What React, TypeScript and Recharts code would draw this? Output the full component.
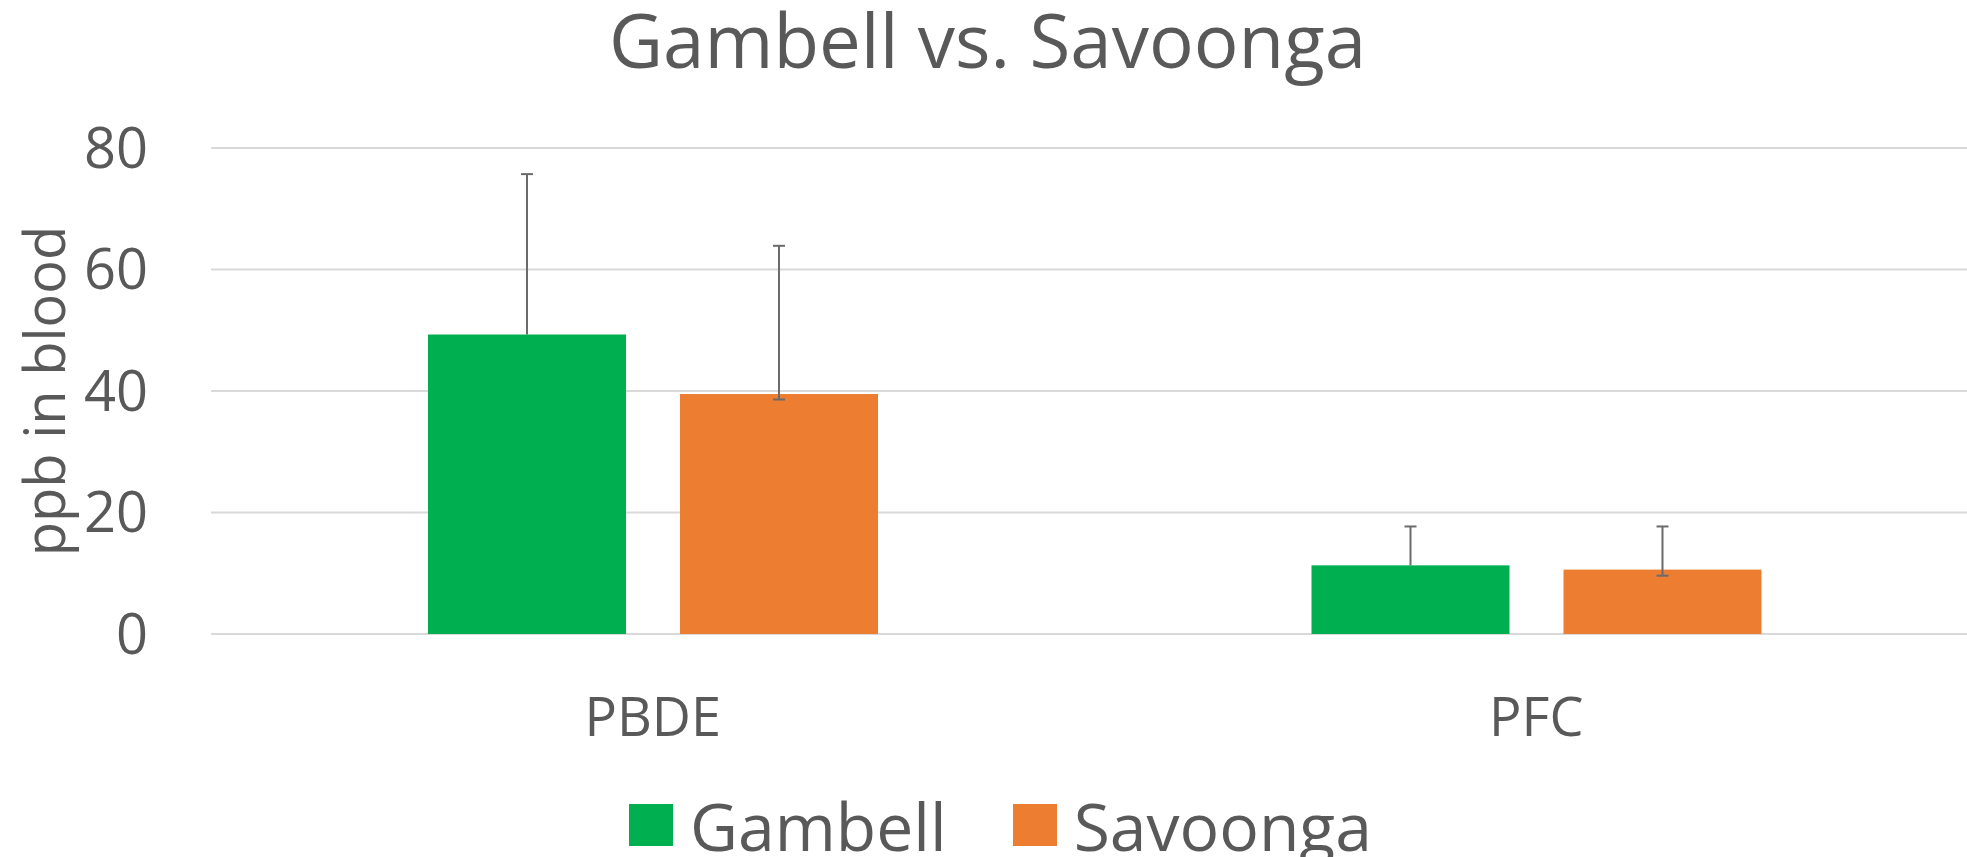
import { BarChart, Bar, XAxis, YAxis, CartesianGrid, Legend } from 'recharts';

const categories = ['PBDE', 'PFC'];
const gambell = [49.3, 11.3];
const savoonga = [39.5, 10.6];
// error bars: plus / minus amounts
const gambellPlus = [26.4, 6.4];
const gambellMinus = [0, 0];
const savoongaPlus = [24.4, 7.1];
const savoongaMinus = [0.9, 1.0];
const yTicks = [0, 20, 40, 60, 80];

const GREEN = '#00b050';
const ORANGE = '#ed7d31';
const TEXT = '#595959';
const FONT = '"Open Sans", sans-serif';

const data = categories.map((name, i) => ({
  name,
  gambell: gambell[i],
  savoonga: savoonga[i],
  gPlus: gambellPlus[i],
  gMinus: gambellMinus[i],
  sPlus: savoongaPlus[i],
  sMinus: savoongaMinus[i],
}));

// bar rectangle plus an Excel style error bar, scaled from the bar's own height
function BarWithError(props: any) {
  const { x, y, width, height, fill, value, plus, minus } = props;
  const v = Array.isArray(value) ? value[1] - value[0] : value;
  const unit = v ? height / v : 0;
  const cx = x + width / 2;
  const top = y - plus * unit;
  const bottom = y + minus * unit;
  const cap = 6;
  return (
    <g>
      <rect x={x} y={y} width={width} height={height} fill={fill} />
      <line x1={cx} x2={cx} y1={top} y2={bottom} stroke="#6b6b6b" strokeWidth={2} />
      <line x1={cx - cap} x2={cx + cap} y1={top} y2={top} stroke="#6b6b6b" strokeWidth={2} />
      {minus > 0 && (
        <line x1={cx - cap} x2={cx + cap} y1={bottom} y2={bottom} stroke="#6b6b6b" strokeWidth={2} />
      )}
    </g>
  );
}

function LegendBox() {
  const items = [
    { label: 'Gambell', color: GREEN },
    { label: 'Savoonga', color: ORANGE },
  ];
  return (
    <div style={{ display: 'flex', justifyContent: 'center', height: 60, alignItems: 'center', fontFamily: FONT, paddingLeft: 34 }}>
      {items.map((it, i) => (
        <div key={it.label} style={{ display: 'flex', alignItems: 'center', marginLeft: i ? 66 : 0 }}>
          <div style={{ width: 44, height: 42, background: it.color, marginRight: 17 }} />
          <span style={{ fontSize: 66, color: TEXT, lineHeight: 1 }}>{it.label}</span>
        </div>
      ))}
    </div>
  );
}

export default function App() {
  return (
    <div style={{ position: 'absolute', left: 0, top: 0, width: 1967, height: 857, overflow: 'hidden', background: '#fff' }}>
      <div
        style={{
          position: 'absolute', left: 0, width: 1975, top: 2, textAlign: 'center',
          fontFamily: FONT, fontSize: 74.5, lineHeight: 1, color: TEXT,
        }}
      >
        Gambell vs. Savoonga
      </div>
      <div
        style={{
          position: 'absolute', left: 43, top: 391, transform: 'translate(-50%, -50%) rotate(-90deg)',
          fontFamily: FONT, fontSize: 56, lineHeight: 1, color: TEXT, whiteSpace: 'nowrap',
        }}
      >
        ppb in blood
      </div>
      <BarChart
        width={1978}
        height={857}
        data={data}
        margin={{ top: 148, right: 0, left: 0, bottom: 63 }}
        barCategoryGap={217}
        barGap={54}
        style={{ position: 'absolute', left: 0, top: 0 }}
      >
        <CartesianGrid vertical={false} stroke="#d9d9d9" strokeWidth={2} />
        <XAxis
          dataKey="name"
          axisLine={false}
          tickLine={false}
          tickSize={0}
          tickMargin={64}
          height={100}
          tick={{ fill: TEXT, fontSize: 54, fontFamily: FONT }}
        />
        <YAxis
          domain={[0, 80]}
          ticks={yTicks}
          axisLine={false}
          tickLine={false}
          tickSize={0}
          tickMargin={63}
          width={211}
          tick={{ fill: TEXT, fontSize: 56, fontFamily: FONT }}
        />
        <Legend
          verticalAlign="bottom"
          content={() => <LegendBox />}
          wrapperStyle={{ left: 0, width: 1967, top: 795 }}
        />
        <Bar
          dataKey="gambell"
          name="Gambell"
          fill={GREEN}
          isAnimationActive={false}
          shape={(p: any) => <BarWithError {...p} plus={p.payload.gPlus} minus={p.payload.gMinus} />}
        />
        <Bar
          dataKey="savoonga"
          name="Savoonga"
          fill={ORANGE}
          isAnimationActive={false}
          shape={(p: any) => <BarWithError {...p} plus={p.payload.sPlus} minus={p.payload.sMinus} />}
        />
      </BarChart>
    </div>
  );
}
